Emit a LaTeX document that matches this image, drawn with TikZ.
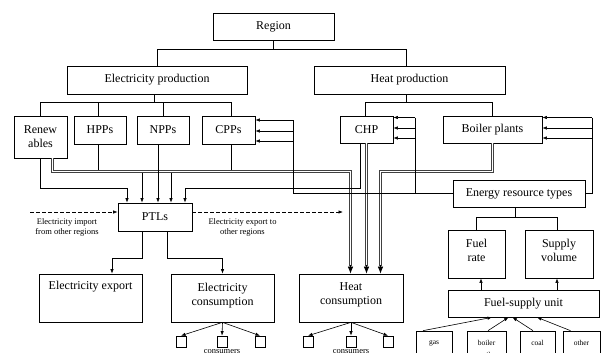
\documentclass[tikz,border=0pt]{standalone}
\usepackage{fontspec}
\setmainfont{Liberation Serif}
\usetikzlibrary{arrows.meta}
\begin{document}
\begin{tikzpicture}[x=1pt,y=-1pt,
  box/.style={draw, line width=0.7pt, inner sep=1pt, align=center, font=\fontsize{12}{14}\selectfont},
  small/.style={font=\fontsize{8.5}{10.5}\selectfont, align=center, inner sep=0pt},
  fuel/.style={draw, line width=0.7pt, inner sep=0pt, align=center, font=\fontsize{7.5}{12}\selectfont, minimum height=36pt},
  sq/.style={draw, line width=0.6pt, minimum width=10pt, minimum height=11pt, inner sep=0pt},
  ln/.style={line width=0.6pt},
  arr/.style={ln, -{Latex[length=4.5pt,width=3.4pt]}},
  dbl/.style={draw=white, line width=1pt, preaction={draw=black!75, line width=3pt}},
  bigtip/.style={ln, -{Latex[length=7pt,width=5.5pt]}},
]
\useasboundingbox (0,0) rectangle (605,353);

% ---------- boxes ----------
\node[box, minimum width=121pt, minimum height=27pt] (region) at (273.5,26.5) {Region};
\node[box, minimum width=180pt, minimum height=28pt] (elprod) at (157,80) {Electricity production};
\node[box, minimum width=191pt, minimum height=28pt] (heatprod) at (409.5,80) {Heat production};
\node[box, minimum width=53pt, minimum height=42pt] (ren) at (40.5,137) {Renew\\ables};
\node[box, minimum width=52pt, minimum height=28pt] (hpp) at (100,130) {HPPs};
\node[box, minimum width=52pt, minimum height=28pt] (npp) at (163,130) {NPPs};
\node[box, minimum width=53pt, minimum height=28pt] (cpp) at (228.5,130) {CPPs};
\node[box, minimum width=53pt, minimum height=27pt] (chp) at (366.5,129.5) {CHP};
\node[box, minimum width=99pt, minimum height=27pt] (boiler) at (492.5,129.5) {Boiler plants};
\node[box, minimum width=132pt, minimum height=27pt] (ert) at (519,193.5) {Energy resource types};
\node[box, minimum width=57pt, minimum height=48pt] (fuelrate) at (476.5,254) {Fuel\\rate\\[-6pt]\mbox{}};
\node[box, minimum width=68pt, minimum height=48pt] (supvol) at (559,254) {Supply\\volume\\[-6pt]\mbox{}};
\node[box, minimum width=151pt, minimum height=27pt] (fsu) at (523.5,303.5) {Fuel-supply unit};
\node[fuel, minimum width=36pt] (gas) at (434,349) {gas\\\phantom{oil}};
\node[fuel, minimum width=39pt] (boileroil) at (486.5,349) {boiler\\oil};
\node[fuel, minimum width=35pt] (coal) at (537.5,349) {coal\\\phantom{oil}};
\node[fuel, minimum width=37pt] (other) at (581.5,349) {other\\\phantom{oil}};
\node[box, minimum width=74pt, minimum height=28pt] (ptl) at (155,217) {PTLs};
\node[box, minimum width=103pt, minimum height=48pt] (elexp) at (90.5,298) {Electricity export\\[11pt]\mbox{}};
\node[box, minimum width=103pt, minimum height=48pt] (elcons) at (222.5,298) {Electricity\\consumption\\[-6pt]\mbox{}};
\node[box, minimum width=104pt, minimum height=48pt] (heatcons) at (351,298) {Heat\\consumption\\[-6pt]\mbox{}};

\node[sq] (c1) at (181,341.5) {};
\node[sq] (c2) at (222,341.5) {};
\node[sq] (c3) at (260,341.5) {};
\node[sq] (c4) at (308,341.5) {};
\node[sq] (c5) at (351,341.5) {};
\node[sq] (c6) at (388,341.5) {};
\node[small, anchor=north] (cl1) at (222,349.5) {consumers};
\node[small, anchor=north] (cl2) at (351,349.5) {consumers};

\node[small] (implbl) at (67,227.5) {Electricity import\\from other regions};
\node[small] (explbl) at (242.5,227.5) {Electricity export to\\other regions};

% ---------- coordinates ----------
\coordinate (p1) at ([xshift=-28pt]ptl.north);
\coordinate (p2) at ([xshift=-13pt]ptl.north);
\coordinate (p3) at ([xshift=3pt]ptl.north);
\coordinate (p4) at ([xshift=16pt]ptl.north);
\coordinate (p5) at ([xshift=30pt]ptl.north);
\coordinate (hc1) at ([xshift=-0.5pt]heatcons.north);
\coordinate (hc2) at (heatcons.north -| chp.south);
\coordinate (hc3) at ([xshift=29.5pt]heatcons.north);
\coordinate (busA) at (293,120);
\coordinate (busB) at (415,117.5);
\coordinate (busC) at (592,117.5);
\coordinate (imp) at (30,212);
\coordinate (exq) at (343,212);
\coordinate (rb) at ([xshift=12pt]ren.south);
\coordinate (rbc) at (rb |- 0,171.5);
\coordinate (h1c) at (hc1 |- 0,171.5);
\coordinate (h3c) at (hc3 |- 0,171.5);
\coordinate (bsc) at (boiler.south |- 0,171.5);

% ---------- double lines to heat consumption ----------
\draw[dbl] (rb) -- (rbc) -- (h1c) -- ([yshift=8pt]hc1);
\draw[bigtip] ([yshift=9pt]hc1) -- (hc1);
\draw[dbl] (chp.south) -- ([yshift=8pt]hc2);
\draw[bigtip] ([yshift=9pt]hc2) -- (hc2);
\draw[dbl] (boiler.south) -- (bsc) -- (h3c) -- ([yshift=8pt]hc3);
\draw[bigtip] ([yshift=9pt]hc3) -- (hc3);

% ---------- tree ----------
\draw[ln] (region.south) -- ++(0,9) coordinate (rj);
\draw[ln] (elprod.north) |- (rj) -| ([xshift=-3.5pt]heatprod.north);
\draw[ln] ([xshift=-3pt]elprod.south) -- ++(0,8) coordinate (ej);
\draw[ln] (ren.north) |- (ej) -| ([xshift=2.5pt]cpp.north);
\draw[ln] ([xshift=-2pt]hpp.north) -- ([xshift=-2pt]hpp.north |- ej);
\draw[ln] (npp.north) -- (npp.north |- ej);
\draw[ln] ([xshift=-3.5pt]heatprod.south) -- ++(0,8) coordinate (hj);
\draw[ln] ([xshift=-1.5pt]chp.north) |- (hj) -| (boiler.north);

% ---------- producers to bus / PTLs ----------
\draw[ln] ([xshift=-2pt]hpp.south) -- ++(0,26);
\draw[ln] ([xshift=2.5pt]cpp.south) -- ++(0,26);
\draw[arr] (ren.south) |- (p1 |- 0,188) -- (p1);
\draw[arr] (p2 |- 0,173) -- (p2);
\draw[arr] (npp.south -| p3) -- (p3);
\draw[arr] (p4 |- 0,173) -- (p4);
\draw[arr] ([xshift=-6.5pt]chp.south) |- (p5 |- 0,188) -- (p5);

% ---------- energy resource buses ----------
\draw[ln] (ert.west) -| (busA);
\draw[ln] (busB) -- (busB |- ert.west);
\draw[ln] (ert.east) -| (busC);
\foreach \yy in {120,131,141} \draw[arr] (busA |- 0,\yy) -- (cpp.east |- 0,\yy);
\foreach \yy in {117.5,128,138} {
  \draw[arr] (busB |- 0,\yy) -- (chp.east |- 0,\yy);
  \draw[arr] (busC |- 0,\yy) -- (boiler.east |- 0,\yy);
}

% ---------- import / export ----------
\draw[arr, dash pattern=on 3.5pt off 2.5pt] (imp) -- (ptl.west |- imp);
\draw[arr, dash pattern=on 3.5pt off 2.5pt] (ptl.east |- exq) -- (exq);

% ---------- PTLs to consumption ----------
\draw[arr] ([xshift=-13pt]ptl.south) -- ++(0,27) -| ([xshift=21.5pt]elexp.north);
\draw[arr] ([xshift=12pt]ptl.south) -- ++(0,27) -| (elcons.north);
\foreach \c in {c1,c2,c3} \draw[arr] (elcons.south) -- (\c.north);
\foreach \c in {c4,c5,c6} \draw[arr] (heatcons.south) -- (\c.north);

% ---------- fuel part ----------
\draw[ln] ([xshift=-4pt]ert.south) -- ++(0,10) coordinate (ej2);
\coordinate (frt) at (fuelrate.north);
\coordinate (svt) at ([xshift=-2pt]supvol.north);
\draw[ln] (frt) |- (ej2) -| (svt);
\coordinate (frb) at ([xshift=4.5pt]fuelrate.south);
\coordinate (svb) at ([xshift=-2pt]supvol.south);
\draw[arr] (fsu.north -| frb) -- (frb);
\draw[arr] (fsu.north -| svb) -- (svb);
\draw[arr] ([xshift=-11pt]gas.north) -- ([xshift=-31.5pt]fsu.south);
\draw[arr] ([xshift=1.5pt]boileroil.north) -- ([xshift=-15pt]fsu.south);
\draw[arr] ([xshift=-4.5pt]coal.north) -- ([xshift=-11pt]fsu.south);
\draw[arr] ([xshift=-11pt]other.north) -- ([xshift=13.5pt]fsu.south);
\end{tikzpicture}
\end{document}
